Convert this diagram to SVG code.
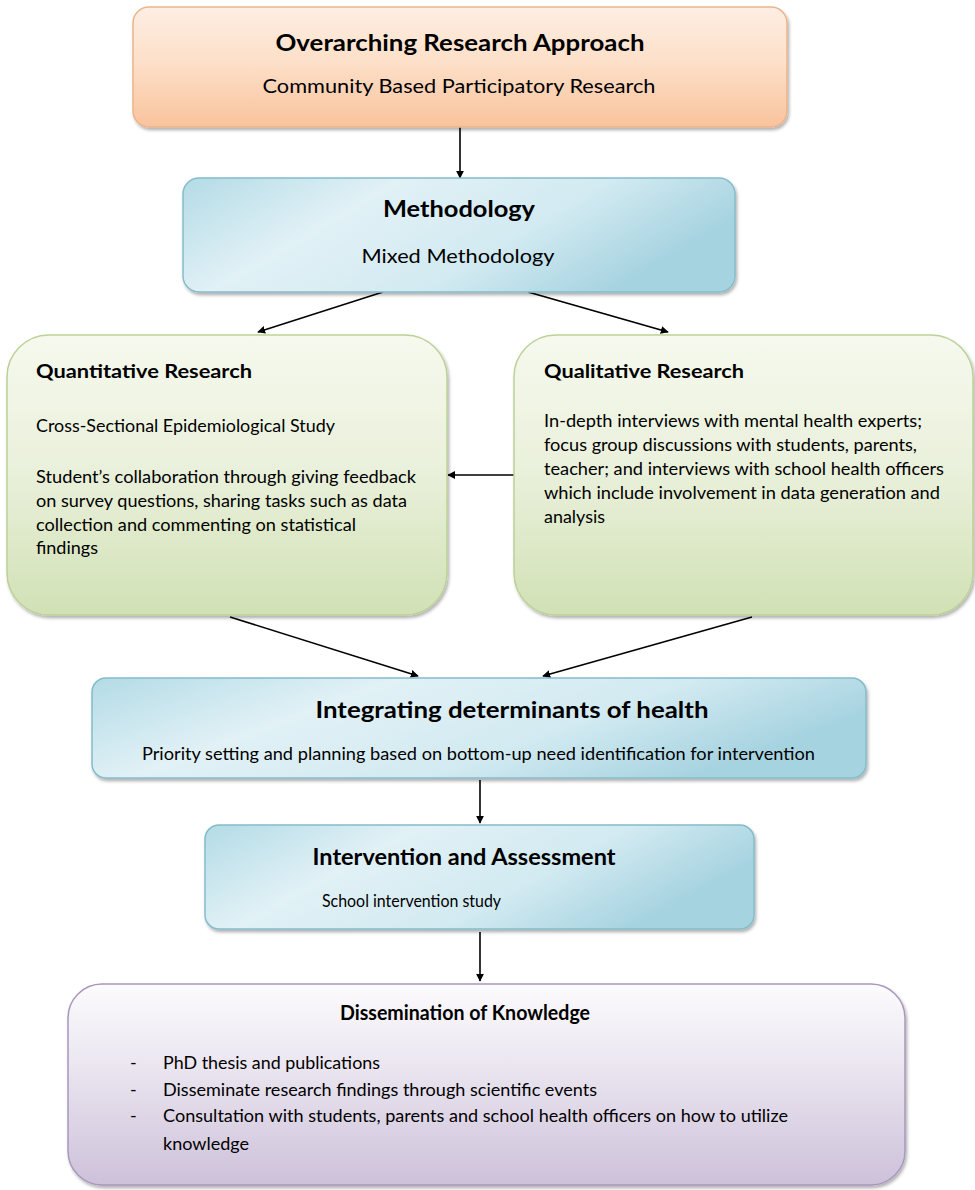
<svg xmlns="http://www.w3.org/2000/svg" width="975" height="1190" viewBox="0 0 975 1190">
<defs>
<linearGradient id="gOrange" x1="0" y1="0" x2="0" y2="1">
<stop offset="0" stop-color="#fdeee3"/><stop offset="0.45" stop-color="#fde0c9"/><stop offset="1" stop-color="#f9c39c"/>
</linearGradient>
<linearGradient id="gBlue" x1="0" y1="0" x2="1" y2="0.35">
<stop offset="0" stop-color="#b3dbe6"/><stop offset="0.35" stop-color="#e1f1f6"/><stop offset="0.7" stop-color="#d2eaf1"/><stop offset="1" stop-color="#a6d3e0"/>
</linearGradient>
<linearGradient id="gGreen" x1="0" y1="0" x2="0" y2="1">
<stop offset="0" stop-color="#f6f9ee"/><stop offset="0.5" stop-color="#e9f0da"/><stop offset="1" stop-color="#d1e1b5"/>
</linearGradient>
<linearGradient id="gPurple" x1="0" y1="0" x2="0" y2="1">
<stop offset="0" stop-color="#fcfbfd"/><stop offset="0.4" stop-color="#ebe6f0"/><stop offset="1" stop-color="#cdc1da"/>
</linearGradient>
<filter id="sh" x="-5%" y="-5%" width="110%" height="115%">
<feDropShadow dx="1.5" dy="2.5" stdDeviation="1.8" flood-color="#000" flood-opacity="0.3"/>
</filter>
<marker id="arr" viewBox="0 0 10 10" refX="9" refY="5" markerWidth="8" markerHeight="8" orient="auto" markerUnits="userSpaceOnUse">
<path d="M0,0 L10,5 L0,10 z" fill="#000"/>
</marker>
<style>
text{font-family:Lato,"Open Sans","Liberation Sans",sans-serif;fill:#000}
.h{font-weight:bold}
.c{text-anchor:middle}
.conn line{stroke:#000;stroke-width:1.6;marker-end:url(#arr)}
</style>
</defs>
<rect width="975" height="1190" fill="#fff"/>

<g class="conn">
<line x1="460" y1="127" x2="460" y2="178"/>
<line x1="383" y1="292" x2="258" y2="332"/>
<line x1="528" y1="292" x2="668" y2="332"/>
<line x1="514" y1="475" x2="448" y2="475"/>
<line x1="230" y1="617" x2="418" y2="676"/>
<line x1="752" y1="617" x2="543" y2="676"/>
<line x1="480" y1="780" x2="480" y2="823"/>
<line x1="480" y1="932" x2="480" y2="981"/>
</g>

<g id="approach">
<rect x="133" y="7" width="654" height="120" rx="16" fill="url(#gOrange)" stroke="#eab48c" stroke-width="1.5" filter="url(#sh)"/>
<text class="h c" x="460" y="51" font-size="22" textLength="369" lengthAdjust="spacingAndGlyphs">Overarching Research Approach</text>
<text class="c" x="459" y="93" font-size="19" textLength="393" lengthAdjust="spacingAndGlyphs">Community Based Participatory Research</text>
</g>

<g id="methodology">
<rect x="183" y="178" width="552" height="114" rx="16" fill="url(#gBlue)" stroke="#84bccb" stroke-width="1.5" filter="url(#sh)"/>
<text class="h c" x="459" y="217" font-size="22" textLength="152" lengthAdjust="spacingAndGlyphs">Methodology</text>
<text class="c" x="458" y="263" font-size="19" textLength="193" lengthAdjust="spacingAndGlyphs">Mixed Methodology</text>
</g>

<g id="quantitative">
<rect x="7" y="335" width="440" height="280" rx="42" fill="url(#gGreen)" stroke="#bcd196" stroke-width="1.5" filter="url(#sh)"/>
<text class="h" x="36" y="378" font-size="19" textLength="216" lengthAdjust="spacingAndGlyphs">Quantitative Research</text>
<text x="36" y="432" font-size="17" textLength="299" lengthAdjust="spacingAndGlyphs">Cross-Sectional Epidemiological Study</text>
<text x="36" y="483" font-size="17" textLength="380" lengthAdjust="spacingAndGlyphs">Student’s collaboration through giving feedback</text>
<text x="36" y="507" font-size="17" textLength="371" lengthAdjust="spacingAndGlyphs">on survey questions, sharing tasks such as data</text>
<text x="36" y="531" font-size="17" textLength="320" lengthAdjust="spacingAndGlyphs">collection and commenting on statistical</text>
<text x="36" y="554" font-size="17" textLength="62" lengthAdjust="spacingAndGlyphs">findings</text>
</g>

<g id="qualitative">
<rect x="514" y="335" width="459" height="280" rx="42" fill="url(#gGreen)" stroke="#bcd196" stroke-width="1.5" filter="url(#sh)"/>
<text class="h" x="544" y="378" font-size="19" textLength="200" lengthAdjust="spacingAndGlyphs">Qualitative Research</text>
<text x="544" y="427" font-size="17" textLength="378" lengthAdjust="spacingAndGlyphs">In-depth interviews with mental health experts;</text>
<text x="544" y="451" font-size="17" textLength="373" lengthAdjust="spacingAndGlyphs">focus group discussions with students, parents,</text>
<text x="544" y="475" font-size="17" textLength="400" lengthAdjust="spacingAndGlyphs">teacher; and interviews with school health officers</text>
<text x="544" y="499" font-size="17" textLength="396" lengthAdjust="spacingAndGlyphs">which include involvement in data generation and</text>
<text x="544" y="523" font-size="17" textLength="61" lengthAdjust="spacingAndGlyphs">analysis</text>
</g>

<g id="integrating">
<rect x="92" y="678" width="774" height="100" rx="14" fill="url(#gBlue)" stroke="#84bccb" stroke-width="1.5" filter="url(#sh)"/>
<text class="h c" x="512" y="718" font-size="23" textLength="393" lengthAdjust="spacingAndGlyphs">Integrating determinants of health</text>
<text x="142" y="760" font-size="17" textLength="673" lengthAdjust="spacingAndGlyphs">Priority setting and planning based on bottom-up need identification for intervention</text>
</g>

<g id="intervention">
<rect x="205" y="825" width="549" height="104" rx="14" fill="url(#gBlue)" stroke="#84bccb" stroke-width="1.5" filter="url(#sh)"/>
<text class="h c" x="464" y="865" font-size="22" textLength="303" lengthAdjust="spacingAndGlyphs">Intervention and Assessment</text>
<text x="322" y="907" font-size="17" textLength="179" lengthAdjust="spacingAndGlyphs">School intervention study</text>
</g>

<g id="dissemination">
<rect x="68" y="984" width="837" height="201" rx="34" fill="url(#gPurple)" stroke="#a997be" stroke-width="1.5" filter="url(#sh)"/>
<text class="h" x="340" y="1020" font-size="20" textLength="250" lengthAdjust="spacingAndGlyphs">Dissemination of Knowledge</text>
<text x="130" y="1069" font-size="18">-</text>
<text x="163" y="1069" font-size="18" textLength="217" lengthAdjust="spacingAndGlyphs">PhD thesis and publications</text>
<text x="130" y="1096" font-size="18">-</text>
<text x="163" y="1096" font-size="18" textLength="434" lengthAdjust="spacingAndGlyphs">Disseminate research findings through scientific events</text>
<text x="130" y="1122" font-size="18">-</text>
<text x="163" y="1122" font-size="18" textLength="625" lengthAdjust="spacingAndGlyphs">Consultation with students, parents and school health officers on how to utilize</text>
<text x="163" y="1150" font-size="18" textLength="86" lengthAdjust="spacingAndGlyphs">knowledge</text>
</g>
</svg>
